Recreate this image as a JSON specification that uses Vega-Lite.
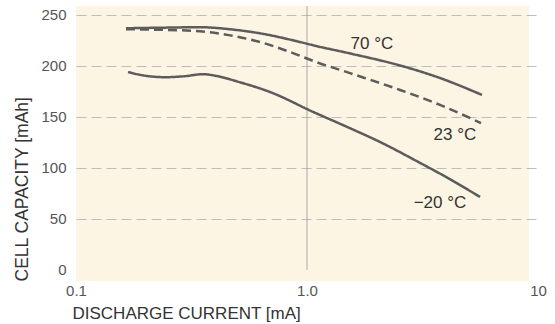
{
  "$schema": "https://vega.github.io/schema/vega-lite/v6.json",
  "autosize": "none",
  "width": 453,
  "height": 275,
  "padding": {"left": 76, "top": 6, "right": 26, "bottom": 43},
  "background": "white",
  "config": {
    "view": {"fill": "#fdf5e3", "stroke": null},
    "font": "Liberation Sans"
  },
  "datasets": {
    "curves": [
      {"series": "70°C", "current": 0.1646, "capacity": 237},
      {"series": "70°C", "current": 0.2311, "capacity": 237.5},
      {"series": "70°C", "current": 0.3441, "capacity": 238},
      {"series": "70°C", "current": 0.4642, "capacity": 236},
      {"series": "70°C", "current": 0.626, "capacity": 232},
      {"series": "70°C", "current": 0.9326, "capacity": 223.5},
      {"series": "70°C", "current": 1.072, "capacity": 220.1},
      {"series": "70°C", "current": 1.535, "capacity": 212.3},
      {"series": "70°C", "current": 2.527, "capacity": 200.5},
      {"series": "70°C", "current": 3.765, "capacity": 188.2},
      {"series": "70°C", "current": 5.724, "capacity": 171.6},
      {"series": "23°C", "current": 0.1646, "capacity": 236},
      {"series": "23°C", "current": 0.2311, "capacity": 235.5},
      {"series": "23°C", "current": 0.3441, "capacity": 234},
      {"series": "23°C", "current": 0.4642, "capacity": 230},
      {"series": "23°C", "current": 0.626, "capacity": 223.5},
      {"series": "23°C", "current": 0.8442, "capacity": 213.7},
      {"series": "23°C", "current": 1.062, "capacity": 205},
      {"series": "23°C", "current": 1.535, "capacity": 193},
      {"series": "23°C", "current": 2.527, "capacity": 176.5},
      {"series": "23°C", "current": 3.765, "capacity": 161.8},
      {"series": "23°C", "current": 5.666, "capacity": 144},
      {"series": "−20°C", "current": 0.168, "capacity": 194},
      {"series": "−20°C", "current": 0.199, "capacity": 190.5},
      {"series": "−20°C", "current": 0.2428, "capacity": 189},
      {"series": "−20°C", "current": 0.2963, "capacity": 190},
      {"series": "−20°C", "current": 0.3546, "capacity": 192},
      {"series": "−20°C", "current": 0.3996, "capacity": 190.5},
      {"series": "−20°C", "current": 0.5129, "capacity": 184},
      {"series": "−20°C", "current": 0.6916, "capacity": 174.5},
      {"series": "−20°C", "current": 1.062, "capacity": 155},
      {"series": "−20°C", "current": 1.535, "capacity": 139},
      {"series": "−20°C", "current": 2.07, "capacity": 125.5},
      {"series": "−20°C", "current": 3.085, "capacity": 105},
      {"series": "−20°C", "current": 4.159, "capacity": 89},
      {"series": "−20°C", "current": 5.61, "capacity": 71.6}
    ],
    "labels": [
      {"text": "70 °C", "current": 1.91, "capacity": 221.6},
      {"text": "23 °C", "current": 4.37, "capacity": 132},
      {"text": "−20 °C", "current": 3.765, "capacity": 65.7}
    ],
    "marker": [
      {"current": 1, "low": 0, "high": 258.8}
    ]
  },
  "layer": [
    {
      "data": {"name": "marker"},
      "mark": {"type": "rule", "color": "#aaaaaa", "strokeWidth": 1},
      "encoding": {
        "x": {"field": "current", "type": "quantitative"},
        "y": {"field": "low", "type": "quantitative"},
        "y2": {"field": "high"}
      }
    },
    {
      "data": {"name": "curves"},
      "mark": {"type": "line", "color": "#5c5c5c", "strokeWidth": 2.5, "interpolate": "monotone"},
      "encoding": {
        "x": {
          "field": "current",
          "type": "quantitative",
          "scale": {"type": "log", "domain": [0.1, 10], "range": [0, 462], "nice": false},
          "axis": {
            "values": [0.1, 1, 10],
            "labelExpr": "datum.value === 1 ? '1.0' : (datum.value === 10 ? '10' : '0.1')",
            "title": "DISCHARGE CURRENT [mA]",
            "titleAnchor": "start",
            "titleAlign": "left",
            "titleX": -4,
            "titleFontSize": 17,
            "titleFontWeight": "normal",
            "titleColor": "#333333",
            "titlePadding": 7,
            "labelFontSize": 15,
            "labelColor": "#555555",
            "labelPadding": 2,
            "labelFlush": false,
            "domain": false,
            "ticks": false,
            "grid": false
          }
        },
        "y": {
          "field": "capacity",
          "type": "quantitative",
          "scale": {"domain": [-10.8, 258.8], "nice": false, "zero": false},
          "axis": {
            "values": [0, 50, 100, 150, 200, 250],
            "title": "CELL CAPACITY [mAh]",
            "titleAnchor": "start",
            "titleFontSize": 17.5,
            "titleFontWeight": "normal",
            "titleColor": "#333333",
            "titlePadding": 9,
            "labelFontSize": 15,
            "labelColor": "#555555",
            "labelPadding": 10,
            "domain": false,
            "ticks": false,
            "grid": true,
            "gridDash": [10, 5],
            "gridWidth": 1.2,
            "gridColor": {"condition": {"test": "datum.value === 0", "value": "transparent"}, "value": "#bdbdbd"}
          }
        },
        "detail": {"field": "series"},
        "strokeDash": {
          "field": "series",
          "type": "nominal",
          "scale": {"domain": ["70°C", "23°C", "−20°C"], "range": [[1, 0], [9, 5], [1, 0]]},
          "legend": null
        }
      }
    },
    {
      "data": {"name": "labels"},
      "mark": {"type": "text", "fontSize": 17, "color": "#333333", "align": "center", "baseline": "middle"},
      "encoding": {
        "x": {"field": "current", "type": "quantitative"},
        "y": {"field": "capacity", "type": "quantitative"},
        "text": {"field": "text"}
      }
    }
  ]
}
